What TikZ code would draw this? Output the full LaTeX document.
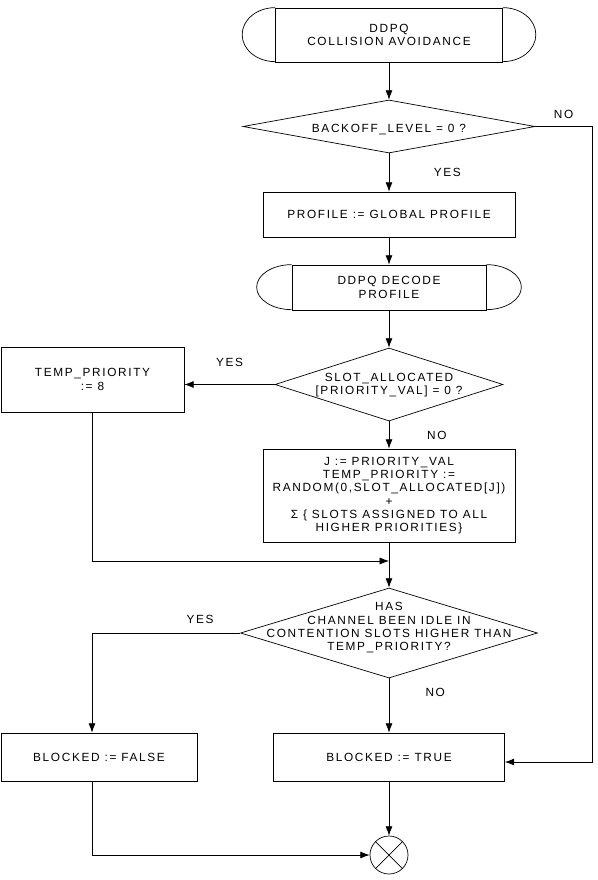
\documentclass[tikz,border=0pt]{standalone}
\usepackage{fontspec}
\setmainfont{Liberation Sans}[LetterSpace=14]
\usetikzlibrary{shapes.geometric,arrows.meta,calc}

\tikzset{
	box/.style={draw,align=center},
	decision/.style={draw,diamond,inner sep=0pt},
	dtext/.style={align=center,inner sep=0pt},
	terminal/.style={draw,align=center},
	lbl/.style={inner sep=1pt},
	arr/.style={-{Latex[length=8pt,width=6pt]}},
}
% rounded ends of a terminal box
\newcommand{\termends}[3]{%
	\draw (#1.north west) arc[start angle=90,end angle=270,x radius=#2,y radius=#3];
	\draw (#1.north east) arc[start angle=90,end angle=-90,x radius=#2,y radius=#3];
}

\begin{document}
\begin{tikzpicture}[x=0.03cm,y=-0.03cm,semithick,font=\fontsize{10.1}{11.4}\selectfont]
	\useasboundingbox (0,0) rectangle (598,880);
	\node[terminal,minimum width=6.81cm,minimum height=1.62cm] (start) at (389,35) {DDPQ\\COLLISION AVOIDANCE};
	\termends{start}{0.99cm}{0.81cm}
	\node[decision,minimum width=8.76cm,minimum height=1.59cm] (lvl) at (389,126.5) {};
	\node[dtext] (lvltxt) at (389,130) {BACKOFF\_LEVEL = 0 ?};
	\node[box,minimum width=7.56cm,minimum height=1.35cm] (prof) at (389,214.5) {PROFILE := GLOBAL PROFILE};
	\node[terminal,minimum width=5.82cm,minimum height=1.35cm] (dec) at (389,287.5) {DDPQ DECODE\\PROFILE};
	\termends{dec}{1.05cm}{0.675cm}
	\node[decision,minimum width=6.84cm,minimum height=2.19cm] (slot) at (389,384.5) {};
	\node[dtext] (slottxt) at (389,385) {SLOT\_ALLOCATED\\{}[PRIORITY\_VAL] = 0 ?};
	\node[box,minimum width=5.49cm,minimum height=1.95cm] (tprio) at (92.5,379.5) {TEMP\_PRIORITY\\:= 8};
	\node[box,minimum width=7.56cm,minimum height=2.79cm] (calc) at (389,495.5) {J := PRIORITY\_VAL\\TEMP\_PRIORITY :=\\RANDOM(0,SLOT\_ALLOCATED[J])\\+\\Σ \{ SLOTS ASSIGNED TO ALL\\HIGHER PRIORITIES\}};
	\coordinate (join) at (389,561);
	\node[decision,minimum width=8.91cm,minimum height=2.7cm] (idle) at (389,633) {};
	\node[dtext] (idletxt) at (389,628) {HAS\\CHANNEL BEEN IDLE IN\\CONTENTION SLOTS HIGHER THAN\\TEMP\_PRIORITY?};
	\coordinate (yesturn) at (92,633);
	\node[box,minimum width=5.88cm,minimum height=1.44cm] (bfalse) at (99,757) {BLOCKED := FALSE};
	\node[box,minimum width=6.93cm,minimum height=1.44cm] (btrue) at (389,757) {BLOCKED := TRUE};
	\coordinate (rside) at (592,126.5);
	\node[draw,circle,minimum size=1.14cm] (done) at (389,855) {};
	\draw (done.north west) -- (done.south east) (done.north east) -- (done.south west);

	\draw[arr] (start) -- (lvl);
	\draw[arr] (lvl) -- node[lbl,right=1.3cm] {YES} (prof);
	\draw[arr] (lvl.east) -- node[lbl,above=0.2cm] {NO} (rside) |- ($(btrue.east)+(0,5)$);
	\draw[arr] (prof) -- (dec);
	\draw[arr] (dec) -- (slot);
	\draw[arr] (slot.west) -- node[lbl,above=0.5cm] {YES} (slot.west -| tprio.east);
	\draw[arr] (slot) -- node[lbl,right=1.1cm] {NO} (calc);
	\draw[arr] (tprio.south) |- (join);
	\draw[arr] (calc) -- (idle);
	\draw[arr] (idle.west) -- node[lbl,above=0.25cm,pos=0.27] {YES} (yesturn) -- (yesturn |- bfalse.north);
	\draw[arr] (idle) -- node[lbl,right=1.05cm,pos=0.25] {NO} (btrue);
	\draw[arr] (btrue) -- (done);
	\draw[arr] (yesturn |- bfalse.south) |- (done.west);
\end{tikzpicture}
\end{document}
